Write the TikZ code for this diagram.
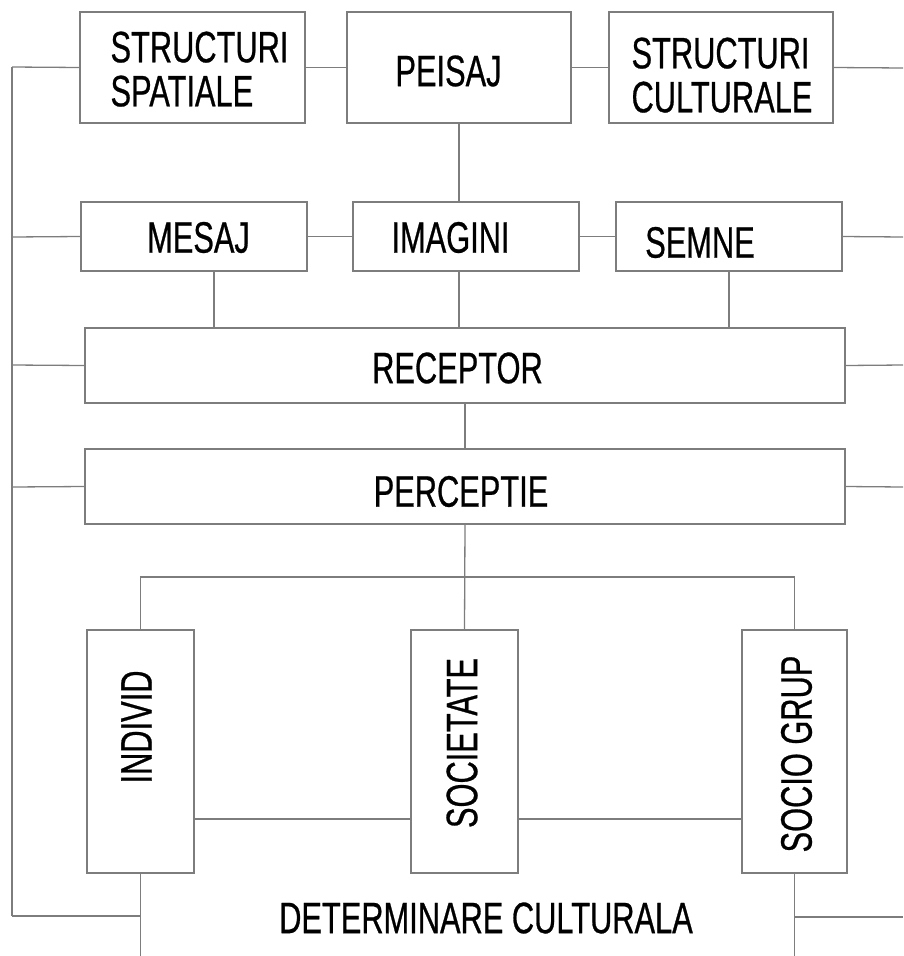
\documentclass[tikz,border=0pt]{standalone}
\usepackage{fontspec}
\setmainfont[FakeStretch=0.70,FakeBold=0.6]{Liberation Sans}
\definecolor{lg}{RGB}{125,125,125}
\newcommand\off[3]{\raisebox{#2}[\height][\depth]{\hspace*{#1}#3\hspace*{-#1}}}
\tikzset{
  box/.style={draw=lg, line width=1.3pt, inner sep=0pt, rectangle, text=black,
    font=\fontsize{44}{44}\selectfont},
  wire/.style={draw=lg, line width=1.3pt},
  lbl/.style={inner sep=0pt, text=black, font=\fontsize{44}{44}\selectfont}
}
\begin{document}
\begin{tikzpicture}[x=1pt,y=-1pt]
\useasboundingbox (0,0) rectangle (903,956);
% top row
\node[box, minimum width=225pt, minimum height=111pt] (ss) at (192.5,67.5)
  {\off{7pt}{-8pt}{\begin{tabular}{@{}l@{}}STRUCTURI\\SPATIALE\end{tabular}}};
\node[box, minimum width=224pt, minimum height=111pt] (pe) at (459,67.5)
  {\off{-10.5pt}{-3.5pt}{PEISAJ}};
\node[box, minimum width=224pt, minimum height=111pt] (sc) at (721,67.5)
  {\off{1pt}{-14pt}{\begin{tabular}{@{}l@{}}STRUCTURI\\CULTURALE\end{tabular}}};
% second row
\node[box, minimum width=226pt, minimum height=69pt] (me) at (194,236.5)
  {\off{4.5pt}{-1pt}{MESAJ}};
\node[box, minimum width=226pt, minimum height=69pt] (im) at (466,236.5)
  {\off{-15.5pt}{-1pt}{IMAGINI}};
\node[box, minimum width=226pt, minimum height=69pt] (se) at (729,236.5)
  {\off{-29pt}{-6pt}{SEMNE}};
% wide boxes
\node[box, minimum width=760pt, minimum height=75pt] (re) at (465,365.5)
  {\off{-7.5pt}{-2.5pt}{RECEPTOR}};
\node[box, minimum width=760pt, minimum height=75pt] (pc) at (465,486.5)
  {\off{-4pt}{-5pt}{PERCEPTIE}};
% vertical boxes
\node[box, minimum width=107pt, minimum height=243pt] (in) at (140.5,751.5)
  {\off{-4pt}{24.5pt}{\rotatebox{90}{INDIVID}}};
\node[box, minimum width=107pt, minimum height=243pt] (so) at (464.5,751.5)
  {\off{-2.5pt}{8.5pt}{\rotatebox{90}{SOCIETATE}}};
\node[box, minimum width=105pt, minimum height=243pt] (sg) at (794.5,751.5)
  {\off{2pt}{-2.5pt}{\rotatebox{90}{SOCIO GRUP}}};
% bottom label
\node[lbl] (dc) at (486,918) {DETERMINARE CULTURALA};

% helper coordinates
\coordinate (L1) at (12,67);
\coordinate (L2) at (12,237);
\coordinate (L3) at (12,365);
\coordinate (L4) at (12,487);
\coordinate (L5) at (12,916);
\coordinate (R1) at (903,68);
\coordinate (R2) at (903,237);
\coordinate (R3) at (903,365);
\coordinate (R4) at (903,487);
\coordinate (R5) at (903,917);
\coordinate (H1) at (0,577);
\coordinate (H2) at (0,819);
\coordinate (BT) at (0,956);

% left spine
\draw[wire] (L1) -- (L5);
% row 1
\draw[wire] (L1) -- (ss.west);
\draw[wire] (ss.east) -- (pe.west);
\draw[wire] (pe.east) -- (sc.west);
\draw[wire] (sc.east) -- (R1);
\draw[wire] (pe.south) -- (pe.south |- im.north);
% row 2
\draw[wire] (L2) -- (me.west);
\draw[wire] (me.east) -- (im.west);
\draw[wire] (im.east) -- (se.west);
\draw[wire] (se.east) -- (R2);
\draw[wire] ([xshift=20pt]me.south) -- ([xshift=20pt]me.south |- re.north);
\draw[wire] ([xshift=-7pt]im.south) -- ([xshift=-7pt]im.south |- re.north);
\draw[wire] (se.south) -- (se.south |- re.north);
% receptor / perceptie
\draw[wire] (L3) -- (re.west);
\draw[wire] (re.east) -- (R3);
\draw[wire] (re.south) -- (pc.north);
\draw[wire] (L4) -- (pc.west);
\draw[wire] (pc.east) -- (R4);
\draw[wire] (pc.south) -- (so.north);
% branch to individ / socio grup
\draw[wire] (in.north) -- (in.north |- H1) -- (sg.north |- H1) -- (sg.north);
\draw[wire] (in.east |- H2) -- (so.west |- H2);
\draw[wire] (so.east |- H2) -- (sg.west |- H2);
% bottom
\draw[wire] (in.south) -- (in.south |- BT);
\draw[wire] (sg.south) -- (sg.south |- BT);
\draw[wire] (L5) -- (L5 -| in.south);
\draw[wire] (sg.south |- R5) -- (R5);
\end{tikzpicture}
\end{document}
